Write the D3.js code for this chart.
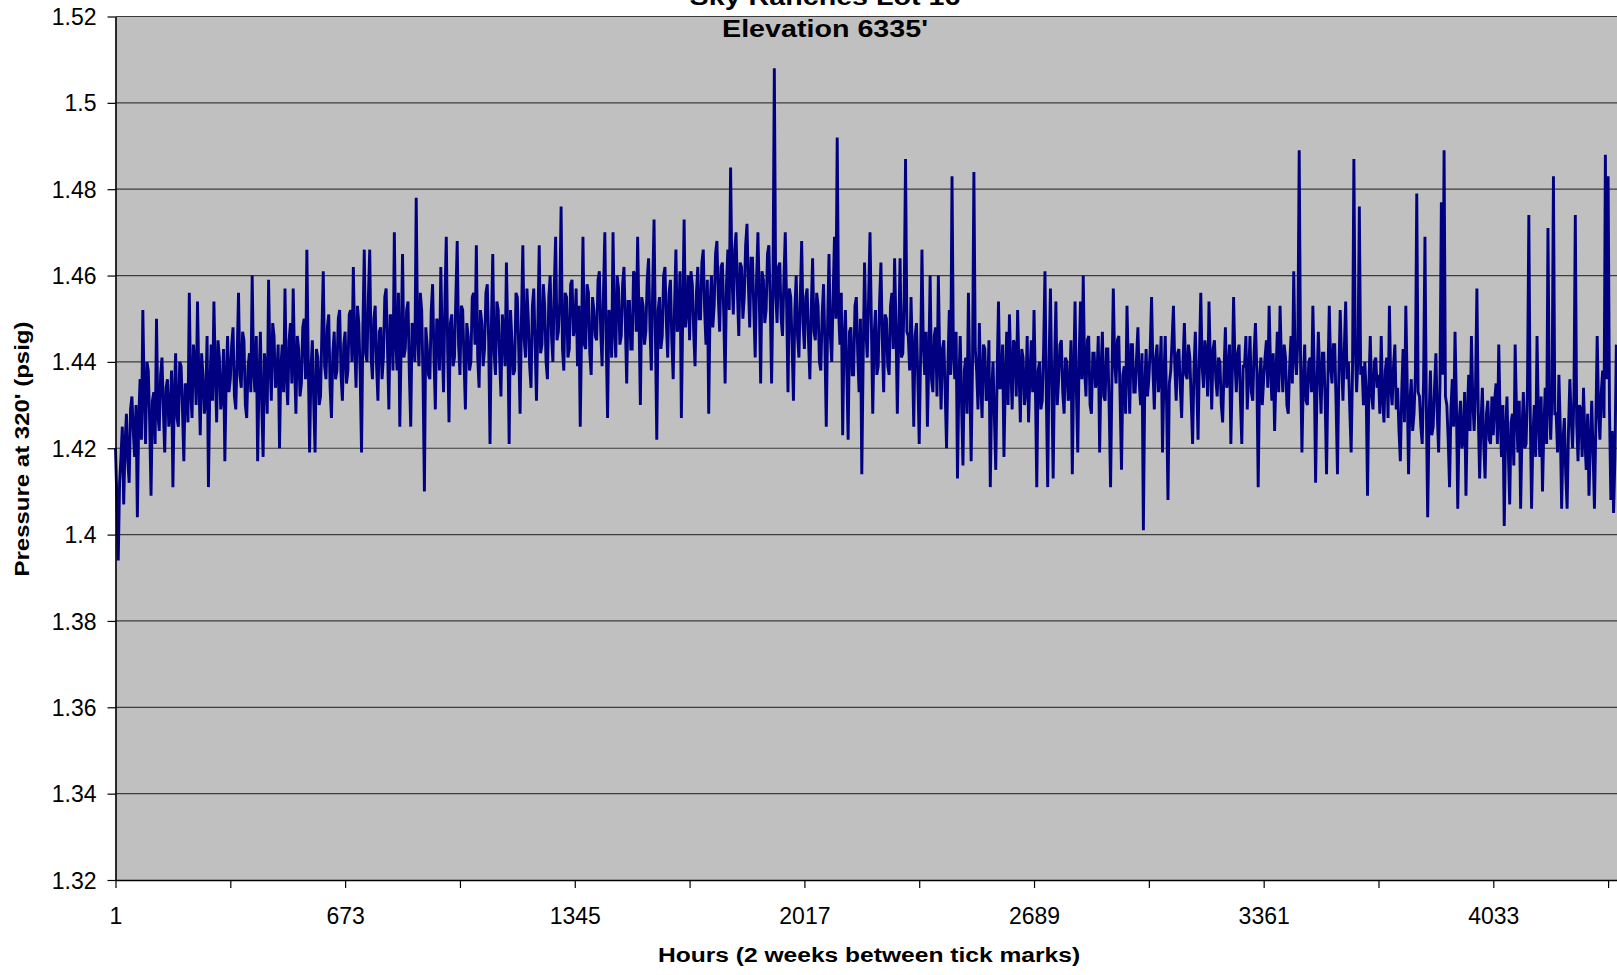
<!DOCTYPE html>
<html>
<head>
<meta charset="utf-8">
<script src="https://cdn.jsdelivr.net/npm/d3@7"></script>
<style>
  body { margin: 0; background: #ffffff; }
  svg { display: block; }
  text { font-family: "Liberation Sans", Arial, sans-serif; fill: #000; }
</style>
</head>
<body>
<svg id="chart" width="1617" height="975"></svg>
<script>
// Chart text
const titleLines = ["Sky Ranches Lot 16", "Elevation 6335'"];
const xAxisTitle = "Hours (2 weeks between tick marks)";
const yAxisTitle = "Pressure at 320' (psig)";

// Axis ticks
const yTickValues = [1.32, 1.34, 1.36, 1.38, 1.40, 1.42, 1.44, 1.46, 1.48, 1.50, 1.52];
const yTickLabels = ["1.32", "1.34", "1.36", "1.38", "1.4", "1.42", "1.44", "1.46", "1.48", "1.5", "1.52"];
const xTickHours = [1, 337, 673, 1009, 1345, 1681, 2017, 2353, 2689, 3025, 3361, 3697, 4033, 4369];
const xTickLabels = ["1", "", "673", "", "1345", "", "2017", "", "2689", "", "3361", "", "4033", ""];

// Pressure readings (psig), one value every 4 hours, grouped by two-week period
const hourStep = 4;
const hoursPerPeriod = 336;
const weeks01_02 = [
  1.420,1.408, 1.394,1.412, 1.418,1.425, 1.407,1.421, 1.428,1.417, 1.412,1.429, 1.432,1.424, 1.418,1.430, 1.404,1.427, 1.436,1.422,
  1.452,1.433, 1.421,1.440, 1.438,1.426, 1.409,1.431, 1.433,1.421, 1.450,1.428, 1.424,1.437, 1.441,1.429, 1.419,1.434, 1.436,1.425,
  1.428,1.438, 1.411,1.432, 1.442,1.427, 1.425,1.440, 1.439,1.429, 1.417,1.435, 1.434,1.426, 1.456,1.433, 1.427,1.444, 1.440,1.430,
  1.454,1.436, 1.423,1.442, 1.437,1.428, 1.431,1.446, 1.411,1.434, 1.444,1.431, 1.454,1.438, 1.426,1.445, 1.441,1.429, 1.432,1.443,
  1.417,1.436, 1.446,1.433];
const weeks03_04 = [
  1.436,1.444, 1.448,1.432, 1.429,1.441, 1.456,1.437, 1.434,1.447, 1.445,1.430, 1.427,1.439, 1.442,1.433, 1.460,1.438, 1.433,1.446,
  1.417,1.436, 1.447,1.430, 1.418,1.442, 1.438,1.428, 1.459,1.440, 1.431,1.449, 1.446,1.434, 1.436,1.444, 1.420,1.439, 1.444,1.433,
  1.457,1.437, 1.430,1.445, 1.449,1.435, 1.457,1.440, 1.428,1.446, 1.443,1.432, 1.435,1.448, 1.450,1.436, 1.466,1.441, 1.419,1.438,
  1.445,1.431, 1.419,1.443, 1.441,1.430, 1.432,1.447, 1.461,1.439, 1.436,1.448, 1.451,1.434, 1.427,1.442, 1.447,1.436, 1.438,1.450,
  1.452,1.437, 1.431,1.444];
const weeks05_06 = [
  1.447,1.435, 1.438,1.451, 1.452,1.440, 1.462,1.444, 1.434,1.453, 1.449,1.437, 1.419,1.448, 1.466,1.442, 1.440,1.455, 1.466,1.441,
  1.436,1.450, 1.453,1.439, 1.431,1.447, 1.448,1.436, 1.441,1.455, 1.457,1.443, 1.429,1.451, 1.450,1.438, 1.470,1.445, 1.438,1.456,
  1.425,1.444, 1.465,1.441, 1.443,1.452, 1.454,1.437, 1.425,1.449, 1.447,1.440, 1.478,1.446, 1.439,1.456, 1.452,1.436, 1.410,1.448,
  1.444,1.437, 1.436,1.452, 1.458,1.441, 1.429,1.450, 1.449,1.438, 1.462,1.445, 1.433,1.454, 1.469,1.443, 1.426,1.449, 1.451,1.439,
  1.441,1.455, 1.468,1.444];
const weeks07_08 = [
  1.437,1.453, 1.452,1.440, 1.429,1.449, 1.446,1.438, 1.440,1.455, 1.456,1.444, 1.467,1.441, 1.434,1.452, 1.449,1.439, 1.443,1.456,
  1.458,1.445, 1.421,1.448, 1.465,1.442, 1.437,1.454, 1.452,1.441, 1.432,1.451, 1.447,1.439, 1.463,1.446, 1.421,1.452, 1.445,1.437,
  1.438,1.456, 1.455,1.443, 1.428,1.450, 1.467,1.445, 1.441,1.457, 1.450,1.439, 1.434,1.453, 1.457,1.444, 1.431,1.449, 1.467,1.442,
  1.444,1.458, 1.453,1.440, 1.436,1.455, 1.460,1.446, 1.440,1.457, 1.469,1.445, 1.447,1.454, 1.476,1.443, 1.438,1.456, 1.455,1.441,
  1.443,1.458, 1.459,1.446];
const weeks09_10 = [
  1.448,1.457, 1.439,1.453, 1.425,1.447, 1.469,1.444, 1.443,1.458, 1.456,1.442, 1.437,1.455, 1.452,1.446, 1.445,1.459, 1.461,1.447,
  1.439,1.456, 1.470,1.445, 1.427,1.452, 1.450,1.441, 1.470,1.448, 1.441,1.460, 1.457,1.444, 1.446,1.458, 1.462,1.449, 1.435,1.454,
  1.454,1.443, 1.443,1.461, 1.460,1.447, 1.469,1.450, 1.430,1.455, 1.453,1.444, 1.447,1.459, 1.464,1.448, 1.438,1.457, 1.473,1.446,
  1.422,1.452, 1.455,1.443, 1.446,1.460, 1.462,1.449, 1.441,1.456, 1.459,1.445, 1.436,1.453, 1.466,1.447, 1.449,1.461, 1.427,1.451,
  1.473,1.448, 1.452,1.460];
const weeks11_12 = [
  1.445,1.461, 1.458,1.447, 1.439,1.456, 1.462,1.450, 1.450,1.463, 1.466,1.452, 1.444,1.459, 1.428,1.453, 1.460,1.448, 1.453,1.465,
  1.468,1.455, 1.447,1.462, 1.463,1.451, 1.435,1.458, 1.466,1.452, 1.485,1.460, 1.451,1.466, 1.470,1.456, 1.446,1.463, 1.462,1.450,
  1.455,1.467, 1.472,1.458, 1.448,1.464, 1.464,1.452, 1.441,1.459, 1.470,1.455, 1.435,1.461, 1.459,1.449, 1.452,1.465, 1.467,1.454,
  1.435,1.457, 1.508,1.456, 1.449,1.462, 1.463,1.450, 1.446,1.459, 1.470,1.453, 1.433,1.457, 1.455,1.444, 1.431,1.452, 1.460,1.446,
  1.441,1.455, 1.468,1.449];
const weeks13_14 = [
  1.443,1.455, 1.457,1.445, 1.436,1.452, 1.464,1.447, 1.445,1.456, 1.453,1.440, 1.438,1.451, 1.458,1.444, 1.425,1.449, 1.465,1.446,
  1.440,1.455, 1.469,1.450, 1.492,1.452, 1.444,1.456, 1.423,1.445, 1.452,1.438, 1.422,1.447, 1.448,1.437, 1.437,1.453, 1.455,1.442,
  1.433,1.450, 1.414,1.441, 1.463,1.447, 1.441,1.455, 1.470,1.449, 1.428,1.446, 1.452,1.437, 1.439,1.454, 1.463,1.445, 1.433,1.451,
  1.450,1.439, 1.437,1.453, 1.456,1.443, 1.464,1.448, 1.428,1.446, 1.464,1.441, 1.442,1.455, 1.487,1.447, 1.446,1.438, 1.455,1.442,
  1.425,1.446, 1.449,1.436];
const weeks15_16 = [
  1.421,1.441, 1.466,1.444, 1.437,1.447, 1.425,1.440, 1.460,1.436, 1.433,1.446, 1.448,1.432, 1.460,1.441, 1.429,1.443, 1.445,1.433,
  1.420,1.439, 1.452,1.437, 1.483,1.442, 1.436,1.447, 1.413,1.435, 1.446,1.430, 1.416,1.438, 1.441,1.428, 1.456,1.436, 1.417,1.440,
  1.484,1.443, 1.438,1.429, 1.449,1.435, 1.427,1.444, 1.443,1.431, 1.432,1.445, 1.411,1.433, 1.440,1.427, 1.415,1.437, 1.454,1.434,
  1.434,1.444, 1.418,1.436, 1.447,1.430, 1.451,1.439, 1.429,1.445, 1.444,1.432, 1.452,1.438, 1.426,1.443, 1.441,1.430, 1.433,1.446,
  1.426,1.437, 1.445,1.433];
const weeks17_18 = [
  1.452,1.434, 1.411,1.438, 1.440,1.429, 1.431,1.443, 1.461,1.432, 1.411,1.440, 1.457,1.435, 1.413,1.439, 1.454,1.430, 1.436,1.444,
  1.445,1.433, 1.428,1.441, 1.440,1.431, 1.433,1.445, 1.414,1.437, 1.454,1.433, 1.419,1.441, 1.454,1.436, 1.460,1.438, 1.432,1.445,
  1.446,1.430, 1.428,1.442, 1.442,1.434, 1.436,1.446, 1.419,1.438, 1.447,1.432, 1.431,1.443, 1.443,1.429, 1.411,1.436, 1.457,1.440,
  1.435,1.445, 1.446,1.431, 1.415,1.437, 1.439,1.428, 1.453,1.439, 1.428,1.444, 1.444,1.433, 1.433,1.441, 1.448,1.435, 1.430,1.442,
  1.401,1.434, 1.443,1.432];
const weeks19_20 = [
  1.436,1.443, 1.455,1.438, 1.429,1.441, 1.444,1.433, 1.437,1.446, 1.419,1.436, 1.446,1.430, 1.408,1.435, 1.438,1.445, 1.453,1.439,
  1.431,1.442, 1.443,1.434, 1.427,1.440, 1.449,1.437, 1.436,1.444, 1.441,1.431, 1.421,1.438, 1.447,1.435, 1.422,1.441, 1.456,1.439,
  1.434,1.445, 1.442,1.432, 1.454,1.440, 1.429,1.443, 1.445,1.436, 1.432,1.441, 1.440,1.430, 1.426,1.438, 1.448,1.434, 1.437,1.444,
  1.421,1.437, 1.455,1.440, 1.433,1.442, 1.444,1.431, 1.421,1.439, 1.439,1.446, 1.429,1.437, 1.446,1.433, 1.431,1.442, 1.449,1.438,
  1.411,1.436, 1.441,1.430];
const weeks21_22 = [
  1.436,1.441, 1.445,1.434, 1.453,1.439, 1.431,1.442, 1.424,1.437, 1.447,1.433, 1.453,1.440, 1.433,1.444, 1.441,1.430, 1.428,1.439,
  1.446,1.435, 1.461,1.441, 1.437,1.445, 1.489,1.440, 1.419,1.436, 1.444,1.431, 1.430,1.440, 1.441,1.433, 1.453,1.438, 1.412,1.434,
  1.447,1.437, 1.428,1.442, 1.442,1.431, 1.414,1.436, 1.453,1.439, 1.435,1.444, 1.444,1.430, 1.414,1.437, 1.452,1.440, 1.431,1.443,
  1.454,1.436, 1.440,1.429, 1.419,1.438, 1.487,1.444, 1.433,1.441, 1.476,1.437, 1.439,1.430, 1.440,1.433, 1.409,1.435, 1.446,1.432,
  1.429,1.440, 1.441,1.434];
const weeks23_24 = [
  1.437,1.428, 1.446,1.432, 1.426,1.438, 1.441,1.427, 1.453,1.434, 1.430,1.439, 1.444,1.429, 1.434,1.424, 1.417,1.433, 1.443,1.426,
  1.453,1.435, 1.414,1.431, 1.436,1.424, 1.428,1.437, 1.479,1.433, 1.432,1.425, 1.421,1.436, 1.469,1.430, 1.404,1.427, 1.438,1.423,
  1.425,1.434, 1.442,1.428, 1.419,1.435, 1.477,1.437, 1.489,1.432, 1.430,1.422, 1.411,1.429, 1.436,1.425, 1.447,1.431, 1.406,1.426,
  1.431,1.420, 1.422,1.433, 1.409,1.428, 1.437,1.424, 1.446,1.431, 1.424,1.434, 1.457,1.428, 1.413,1.426, 1.434,1.421, 1.413,1.428,
  1.431,1.422, 1.421,1.432];
const weeks25_26 = [
  1.423,1.431, 1.435,1.421, 1.444,1.427, 1.418,1.430, 1.402,1.424, 1.432,1.419, 1.407,1.426, 1.428,1.416, 1.444,1.428, 1.419,1.431,
  1.406,1.424, 1.433,1.420, 1.421,1.434, 1.474,1.429, 1.406,1.423, 1.430,1.418, 1.446,1.427, 1.418,1.432, 1.410,1.425, 1.434,1.421,
  1.471,1.430, 1.422,1.433, 1.483,1.428, 1.428,1.419, 1.437,1.425, 1.406,1.422, 1.427,1.414, 1.406,1.424, 1.436,1.427, 1.420,1.432,
  1.474,1.426, 1.417,1.430, 1.429,1.418, 1.434,1.422, 1.415,1.428, 1.409,1.421, 1.431,1.419, 1.406,1.425, 1.446,1.429, 1.422,1.433,
  1.438,1.427, 1.488,1.436, 1.483,1.429, 1.408,1.424, 1.405,1.418, 1.444];

const periods = [weeks01_02, weeks03_04, weeks05_06, weeks07_08, weeks09_10, weeks11_12,
  weeks13_14, weeks15_16, weeks17_18, weeks19_20, weeks21_22, weeks23_24, weeks25_26];

const readings = periods.flatMap((vals, p) =>
  vals.map((v, j) => ({ hour: 1 + p * hoursPerPeriod + j * hourStep, value: v })));

// Layout
const plot = { left: 115.5, top: 16.5, right: 1617, bottom: 880 };
const svg = d3.select("#chart");

const x = d3.scaleLinear().domain([1, 4395]).range([plot.left, plot.right]);
const y = d3.scaleLinear().domain([1.32, 1.52]).range([plot.bottom, plot.top]);

// Title (first line runs off the top of the frame)
svg.append("text")
  .attr("transform", "translate(825,5) scale(1.22,1)")
  .attr("text-anchor", "middle")
  .style("font-size", "23.5px").style("font-weight", "bold")
  .text(titleLines[0]);

// Plot area background
svg.append("rect")
  .attr("x", plot.left).attr("y", plot.top)
  .attr("width", plot.right - plot.left).attr("height", plot.bottom - plot.top)
  .attr("fill", "#c0c0c0");

// Horizontal gridlines
svg.append("g").selectAll("line")
  .data(yTickValues.slice(1))
  .join("line")
  .attr("x1", plot.left).attr("x2", plot.right)
  .attr("y1", d => y(d)).attr("y2", d => y(d))
  .attr("stroke", "#3c3c3c").attr("stroke-width", 1.2);

// Second title line sits over the plot area
svg.append("text")
  .attr("transform", "translate(825,37) scale(1.22,1)")
  .attr("text-anchor", "middle")
  .style("font-size", "23.5px").style("font-weight", "bold")
  .text(titleLines[1]);

// Pressure trace
const line = d3.line().x(d => x(d.hour)).y(d => y(d.value));
svg.append("path")
  .datum(readings)
  .attr("d", line)
  .attr("fill", "none")
  .attr("stroke", "#000080")
  .attr("stroke-width", 2.9)
  .attr("stroke-linejoin", "miter");

// Y axis
const yAxis = d3.axisLeft(y)
  .tickValues(yTickValues)
  .tickFormat((d, i) => yTickLabels[i])
  .tickSize(8).tickSizeOuter(0).tickPadding(11);
const gy = svg.append("g").attr("transform", `translate(${plot.left},0)`).call(yAxis);
gy.selectAll("text").style("font-size", "23px").attr("dy", "0.35em");

// X axis
const xAxis = d3.axisBottom(x)
  .tickValues(xTickHours)
  .tickFormat((d, i) => xTickLabels[i])
  .tickSize(8).tickSizeOuter(0).tickPadding(20);
const gx = svg.append("g").attr("transform", `translate(0,${plot.bottom})`).call(xAxis);
gx.selectAll("text").style("font-size", "23px");

svg.selectAll(".domain").attr("stroke", "#000").attr("stroke-width", 1.6);
svg.selectAll(".tick line").attr("stroke", "#000").attr("stroke-width", 1.2);

// Axis titles
svg.append("text")
  .attr("transform", "translate(869,962) scale(1.2,1)")
  .attr("text-anchor", "middle")
  .style("font-size", "20.5px").style("font-weight", "bold")
  .text(xAxisTitle);

svg.append("text")
  .attr("transform", "translate(29,449) rotate(-90) scale(1.2,1)")
  .attr("text-anchor", "middle")
  .style("font-size", "20px").style("font-weight", "bold")
  .text(yAxisTitle);
</script>
</body>
</html>
